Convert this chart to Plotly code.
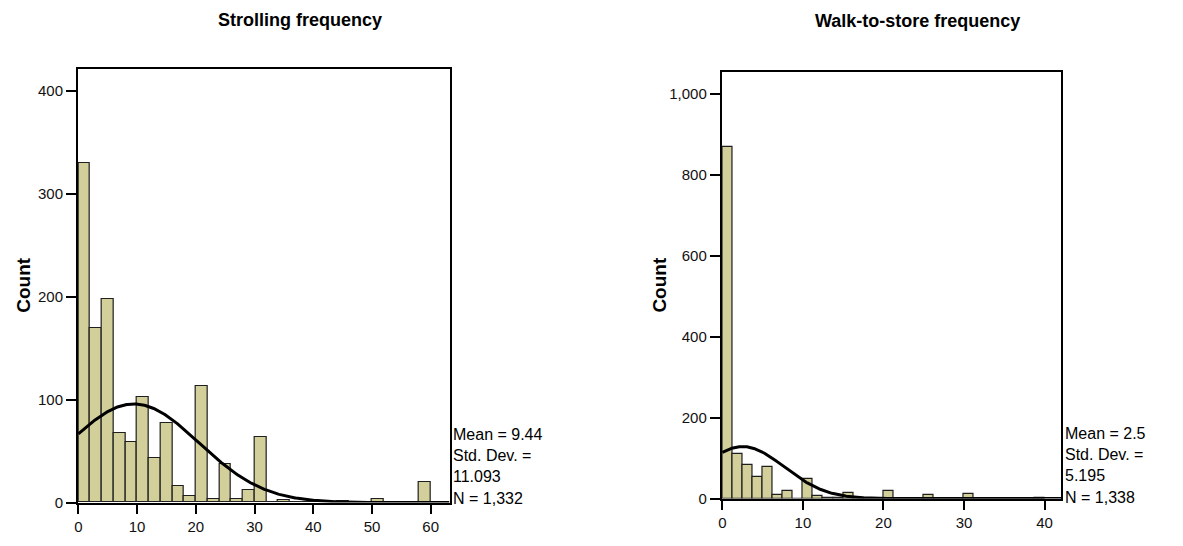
import numpy as np
import plotly.graph_objects as go

# ---------------- Data ----------------
# Strolling frequency: histogram with bin width 2, bins start at 0
stroll_bin_width = 2
stroll_counts = [330, 170, 198, 68, 59, 103, 43, 77, 16, 6,
                 113, 3, 37, 3, 12, 64, 0, 2, 0, 0,
                 0, 0, 1, 0, 0, 3, 0, 0, 0, 20]
stroll_mean = 9.44
stroll_sd = 11.093
stroll_n = 1332

# Walk-to-store frequency: histogram with bin width 1.25, bins start at 0
walk_bin_width = 1.25
walk_counts = [869, 111, 84, 53, 79, 8, 19, 0, 49, 7,
               2, 1, 14, 1, 0, 0, 18, 0, 0, 0,
               10, 0, 0, 0, 11, 0, 0, 0, 0, 0,
               0, 2]
walk_mean = 2.5
walk_sd = 5.195
walk_n = 1338

x_ticks_left = [0, 10, 20, 30, 40, 50, 60]
y_ticks_left = [0, 100, 200, 300, 400]
x_ticks_right = [0, 10, 20, 30, 40]
y_ticks_right = [0, 200, 400, 600, 800, 1000]
y_ticktext_right = ["0", "200", "400", "600", "800", "1,000"]

titles = ["Strolling frequency", "Walk-to-store frequency"]

BAR_FILL = "#D3CF9B"
BAR_LINE = "#1e1e1e"
FONT = "Liberation Sans, Arial, sans-serif"

# page body has an 8px margin; work in reference pixels and shift
OFF = 8
W, H = 1183 - OFF, 546 - OFF


def px(x):
    return (x - OFF) / W


def py(y):
    return 1 - (y - OFF) / H


def bar_centers(counts, bw):
    return [bw * i + bw / 2 for i in range(len(counts))]


def normal_curve(mean, sd, n, bw, xmax):
    xs = np.linspace(0, xmax, 400)
    ys = n * bw / (sd * np.sqrt(2 * np.pi)) * np.exp(-0.5 * ((xs - mean) / sd) ** 2)
    return xs, ys


fig = go.Figure()

# Left histogram
left_xmax = 63.2
fig.add_trace(go.Bar(
    x=bar_centers(stroll_counts, stroll_bin_width), y=stroll_counts,
    width=stroll_bin_width, marker=dict(color=BAR_FILL, line=dict(color=BAR_LINE, width=1.2)),
    xaxis="x", yaxis="y", showlegend=False))
cx, cy = normal_curve(stroll_mean, stroll_sd, stroll_n, stroll_bin_width, left_xmax)
fig.add_trace(go.Scatter(x=cx, y=cy, mode="lines", line=dict(color="black", width=3),
                         xaxis="x", yaxis="y", showlegend=False))

# Right histogram
right_xmax = 42.1
fig.add_trace(go.Bar(
    x=bar_centers(walk_counts, walk_bin_width), y=walk_counts,
    width=walk_bin_width, marker=dict(color=BAR_FILL, line=dict(color=BAR_LINE, width=1.2)),
    xaxis="x2", yaxis="y2", showlegend=False))
cx2, cy2 = normal_curve(walk_mean, walk_sd, walk_n, walk_bin_width, right_xmax)
fig.add_trace(go.Scatter(x=cx2, y=cy2, mode="lines", line=dict(color="black", width=3),
                         xaxis="x2", yaxis="y2", showlegend=False))

axis_common = dict(showgrid=False, zeroline=False, showline=True, linecolor="black",
                   linewidth=1.5, mirror=True, ticks="outside", ticklen=10, tickwidth=1.5,
                   tickcolor="black", tickfont=dict(family=FONT, size=15, color="#111"))

fig.update_layout(
    width=W, height=H,
    margin=dict(l=0, r=0, t=0, b=0),
    paper_bgcolor="white", plot_bgcolor="white",
    bargap=0,
    font=dict(family=FONT, color="black"),
    xaxis=dict(domain=[px(74), px(447)], range=[-0.1, left_xmax], tickvals=x_ticks_left,
               anchor="y", **axis_common),
    yaxis=dict(domain=[py(510), py(70)], range=[0, 421.4], tickvals=y_ticks_left,
               anchor="x", **axis_common),
    xaxis2=dict(domain=[px(720), px(1061)], range=[-0.1, right_xmax], tickvals=x_ticks_right,
                anchor="y2", **axis_common),
    yaxis2=dict(domain=[py(506), py(73)], range=[0, 1053], tickvals=y_ticks_right,
                ticktext=y_ticktext_right, anchor="x2", **axis_common),
)

annotations = [
    dict(text="<b>%s</b>" % titles[0], x=px(297), y=py(20), xref="paper", yref="paper",
         showarrow=False, font=dict(size=18, family=FONT), xanchor="center", yanchor="middle"),
    dict(text="<b>%s</b>" % titles[1], x=px(917), y=py(9), xref="paper", yref="paper",
         showarrow=False, font=dict(size=18, family=FONT), xanchor="center", yanchor="top"),
    dict(text="<b>Count</b>", x=px(20), y=py(289), xref="paper", yref="paper", textangle=-90,
         showarrow=False, font=dict(size=19, family=FONT), xanchor="center", yanchor="middle"),
    dict(text="<b>Count</b>", x=px(658), y=py(289), xref="paper", yref="paper", textangle=-90,
         showarrow=False, font=dict(size=19, family=FONT), xanchor="center", yanchor="middle"),
]

stats_left = ["Mean = %.2f" % stroll_mean, "Std. Dev. =", "%.3f" % stroll_sd, "N = {:,}".format(stroll_n)]
stats_right = ["Mean = %.1f" % walk_mean, "Std. Dev. =", "%.3f" % walk_sd, "N = {:,}".format(walk_n)]
for i, t in enumerate(stats_left):
    annotations.append(dict(text=t, x=px(449), y=py(441 + 21.5 * i), xref="paper", yref="paper",
                            showarrow=False, font=dict(size=16, family=FONT), xanchor="left",
                            yanchor="middle"))
for i, t in enumerate(stats_right):
    annotations.append(dict(text=t, x=px(1063), y=py(440 + 21.5 * i), xref="paper", yref="paper",
                            showarrow=False, font=dict(size=16, family=FONT), xanchor="left",
                            yanchor="middle"))

fig.update_layout(annotations=annotations)

fig.write_html("out.html")
